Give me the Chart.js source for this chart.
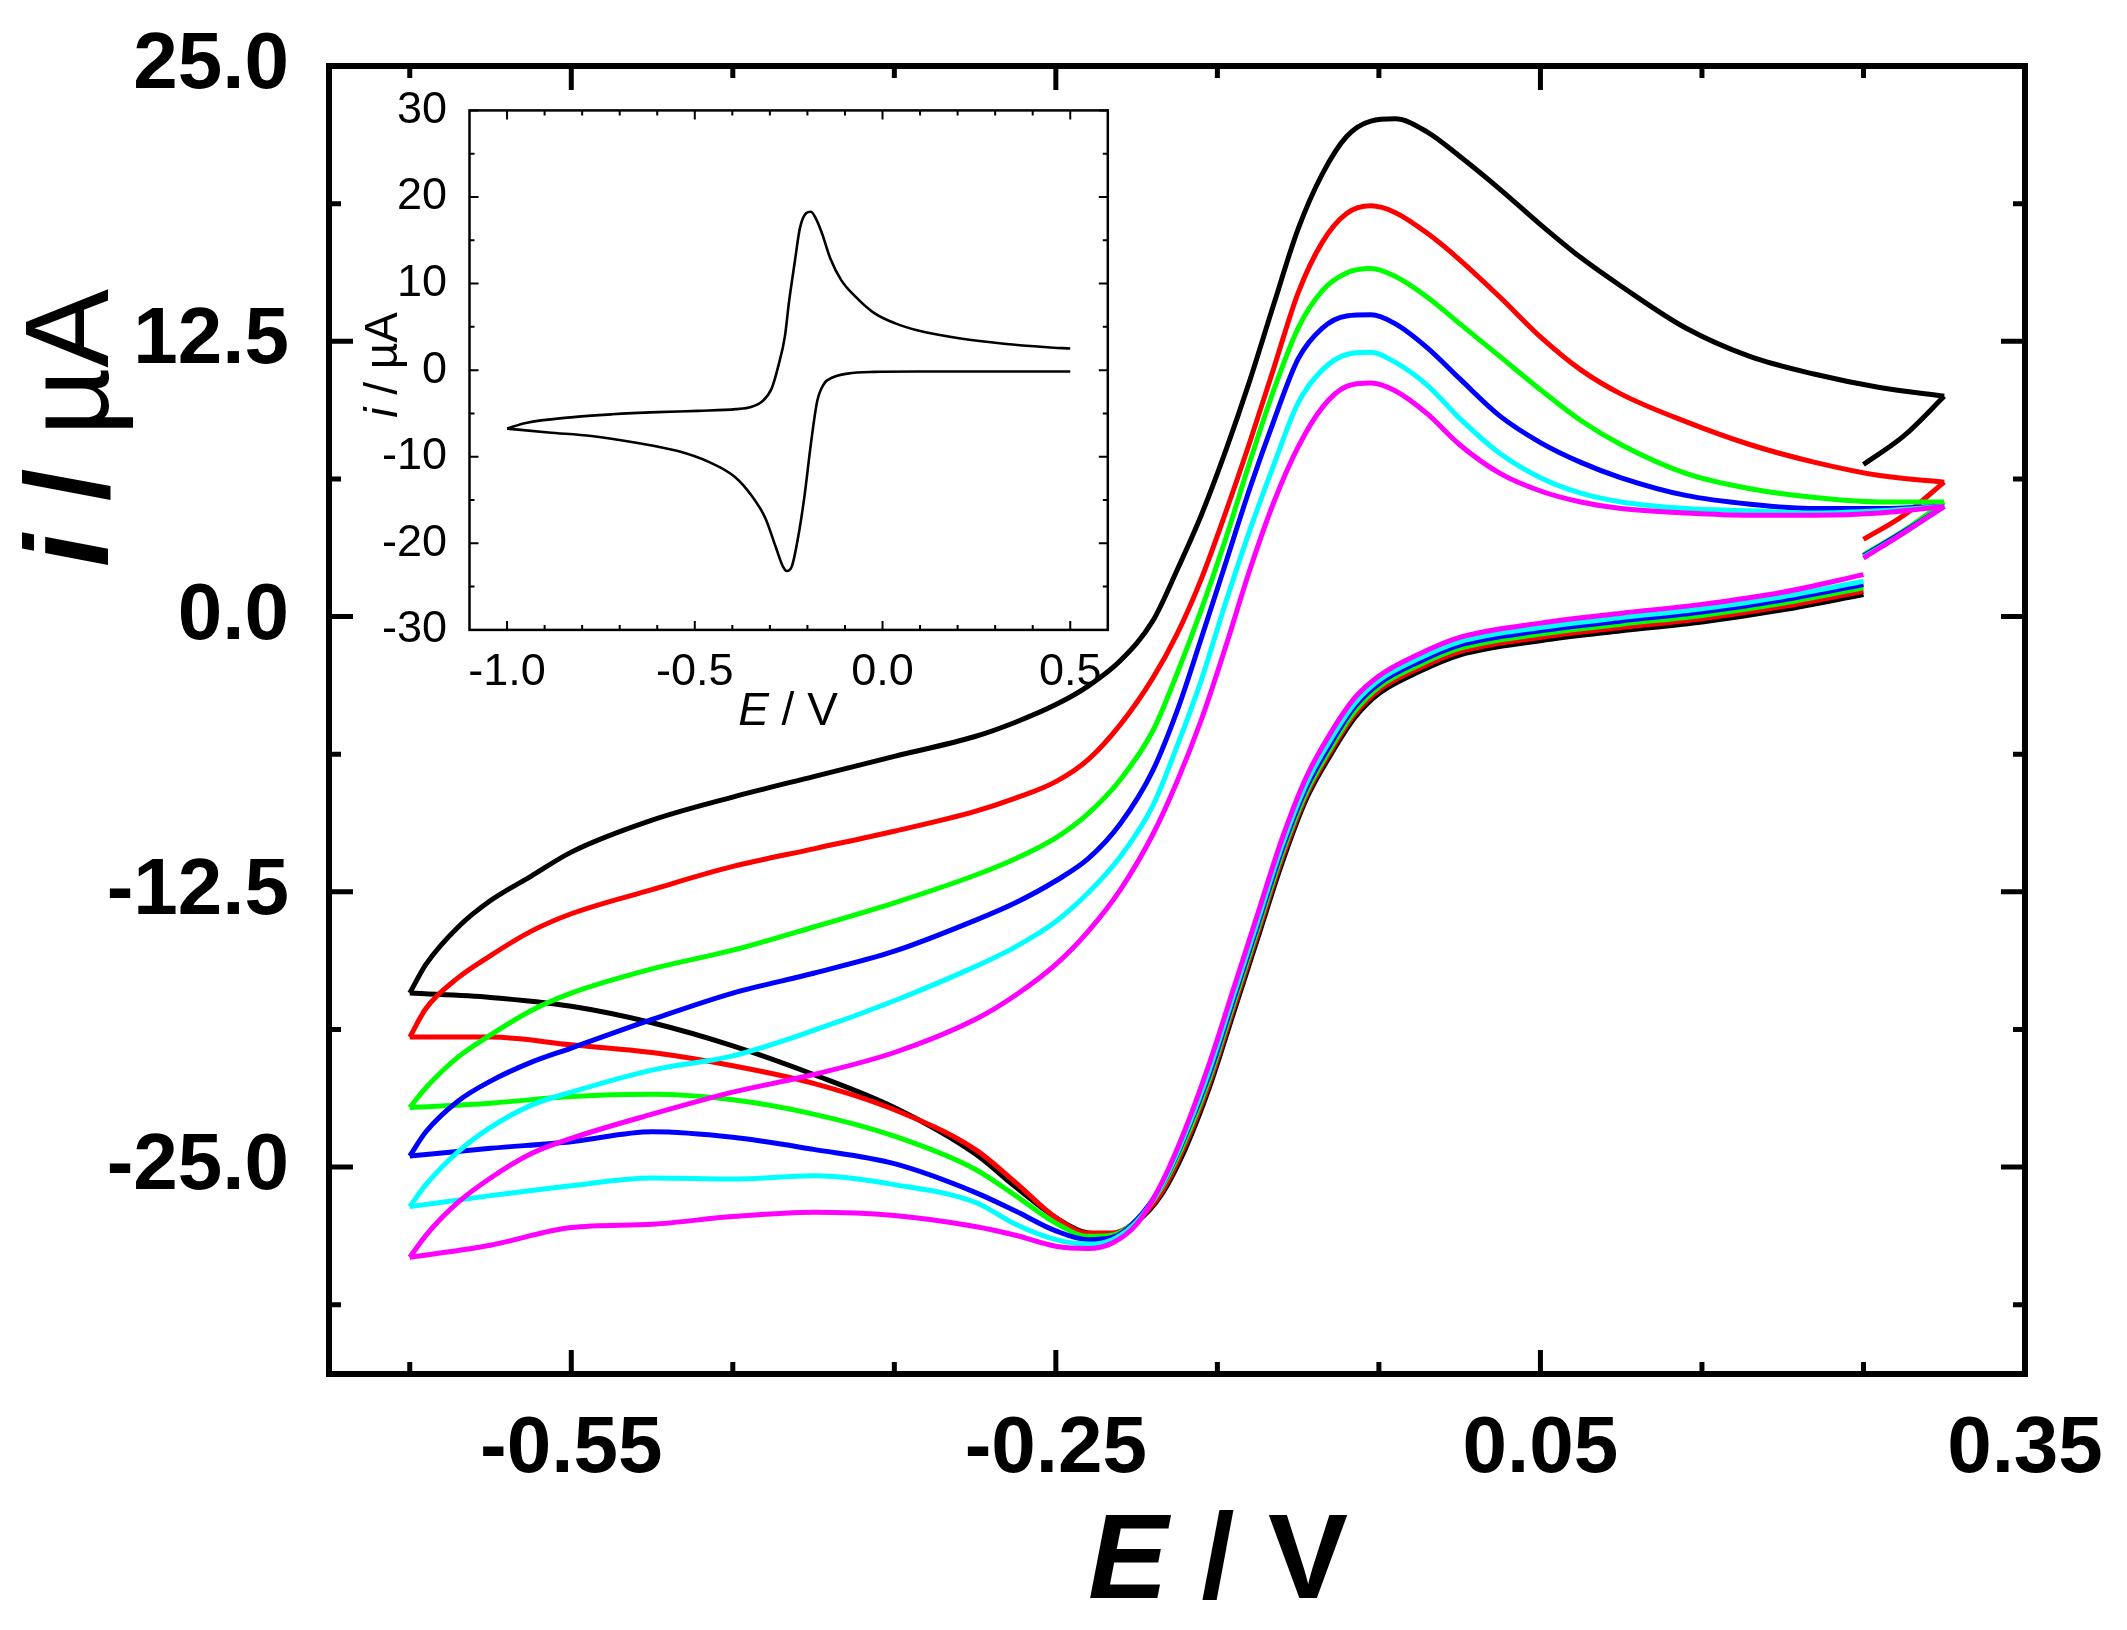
<!DOCTYPE html>
<html>
<head>
<meta charset="utf-8">
<script src="https://cdn.jsdelivr.net/npm/chart.js@4.4.1/dist/chart.umd.min.js"></script>
<style>
  html, body { margin: 0; padding: 0; background: #fff; }
  #wrap { position: relative; width: 2127px; height: 1630px; }
  #main { position: absolute; left: 0; top: 0; }
  #inset { position: absolute; left: 340px; top: 80px; }
</style>
</head>
<body>
<div id="wrap">
  <canvas id="main" width="2127" height="1630"></canvas>
  <canvas id="inset" width="800" height="660"></canvas>
</div>
<script>
// ---- main plot data: potential grids (V) ----
const fwdE  = [-0.65, -0.64, -0.62, -0.60, -0.575, -0.55, -0.50, -0.45, -0.40, -0.35, -0.30, -0.275, -0.25, -0.23, -0.21, -0.19, -0.175, -0.16, -0.145, -0.13, -0.115, -0.10, -0.085, -0.07, -0.055, -0.04, -0.02, 0.0, 0.025, 0.05, 0.075, 0.10, 0.14, 0.18, 0.22, 0.26, 0.30];
const turnE = [0.30, 0.275, 0.25];
const revE  = [0.25, 0.20, 0.15, 0.10, 0.05, 0.0, -0.025, -0.05, -0.065, -0.08, -0.095, -0.11, -0.125, -0.14, -0.155, -0.17, -0.185, -0.20, -0.215, -0.23, -0.25, -0.275, -0.30, -0.35, -0.40, -0.45, -0.50, -0.55, -0.60, -0.65];

// currents (uA), one set per scan
const blackFwd   = [-17.1, -15.8, -14.1, -12.9, -11.8, -10.7, -9.25, -8.2, -7.27, -6.35, -5.45, -4.8, -4.0, -3.16, -2.0, -0.2, 2.1, 4.6, 7.5, 10.7, 14.2, 17.6, 20.1, 21.8, 22.5, 22.6, 22.0, 20.9, 19.4, 17.8, 16.3, 15.0, 13.1, 11.8, 11.0, 10.4, 10.0];
const redFwd     = [-19.1, -17.8, -16.4, -15.4, -14.3, -13.5, -12.4, -11.35, -10.55, -9.75, -8.85, -8.25, -7.5, -6.5, -4.9, -2.8, -0.8, 1.7, 4.7, 7.9, 11.3, 14.7, 17.0, 18.3, 18.65, 18.35, 17.4, 16.2, 14.5, 12.7, 11.2, 10.1, 8.85, 7.8, 7.0, 6.4, 6.1];
const greenFwd   = [-22.3, -21.4, -20.0, -19.0, -17.9, -17.1, -16.0, -15.15, -14.1, -13.0, -11.75, -11.0, -10.05, -8.95, -7.4, -5.2, -2.6, 0.3, 3.5, 7.0, 10.3, 13.1, 14.8, 15.6, 15.8, 15.45, 14.5, 13.3, 11.8, 10.3, 8.9, 7.8, 6.5, 5.8, 5.4, 5.2, 5.2];
const blueFwd    = [-24.5, -23.4, -22.0, -21.1, -20.25, -19.6, -18.3, -17.1, -16.2, -15.2, -13.8, -13.0, -12.0, -11.0, -9.4, -7.0, -4.3, -1.0, 2.4, 5.8, 8.9, 11.7, 13.1, 13.65, 13.7, 13.3, 12.2, 10.8, 9.1, 7.9, 7.0, 6.3, 5.5, 5.1, 4.9, 4.9, 5.0];
const cyanFwd    = [-26.8, -25.8, -24.3, -23.2, -22.2, -21.6, -20.6, -19.95, -18.8, -17.45, -15.9, -15.0, -13.85, -12.55, -10.9, -8.6, -5.9, -2.9, 0.6, 3.9, 6.9, 9.7, 11.2, 11.9, 12.0, 11.55, 10.5, 9.0, 7.4, 6.3, 5.6, 5.2, 4.9, 4.8, 4.7, 4.8, 5.0];
const magentaFwd = [-29.1, -28.1, -26.6, -25.5, -24.4, -23.7, -22.6, -21.6, -20.8, -19.8, -18.3, -17.2, -15.8, -14.3, -12.4, -9.9, -7.5, -4.7, -1.4, 2.1, 5.2, 7.7, 9.5, 10.45, 10.6, 10.25, 9.2, 7.8, 6.5, 5.7, 5.2, 4.9, 4.7, 4.6, 4.6, 4.7, 5.0];

const blackTurn   = [10.0, 8.2, 6.9];
const redTurn     = [6.1, 4.6, 3.5];
const greenTurn   = [5.2, 3.9, 2.8];
const blueTurn    = [5.0, 3.85, 2.75];
const cyanTurn    = [5.0, 3.8, 2.7];
const magentaTurn = [5.0, 3.8, 2.65];

const blackRev   = [1.0, 0.3, -0.25, -0.65, -1.1, -1.75, -2.5, -3.5, -4.6, -6.3, -8.3, -11.2, -14.6, -18.0, -21.4, -24.2, -26.3, -27.5, -28.05, -28.0, -27.3, -25.9, -24.4, -22.3, -20.8, -19.5, -18.45, -17.7, -17.3, -17.1];
const redRev     = [1.15, 0.45, -0.1, -0.5, -0.95, -1.6, -2.35, -3.35, -4.45, -6.15, -8.15, -11.0, -14.4, -17.8, -21.2, -24.0, -26.2, -27.45, -28.0, -28.0, -27.3, -25.7, -24.2, -22.4, -21.2, -20.4, -19.8, -19.45, -19.1, -19.1];
const greenRev   = [1.3, 0.6, 0.05, -0.35, -0.8, -1.45, -2.2, -3.2, -4.3, -6.0, -8.0, -10.8, -14.2, -17.6, -21.0, -23.8, -26.0, -27.4, -28.1, -28.15, -27.55, -26.3, -25.1, -23.6, -22.6, -21.95, -21.7, -21.8, -22.1, -22.3];
const blueRev    = [1.45, 0.75, 0.2, -0.2, -0.65, -1.3, -2.05, -3.05, -4.1, -5.8, -7.8, -10.6, -14.0, -17.4, -20.8, -23.6, -25.9, -27.4, -28.2, -28.3, -27.9, -27.0, -26.15, -24.85, -24.2, -23.65, -23.4, -23.85, -24.15, -24.5];
const cyanRev    = [1.6, 0.9, 0.35, -0.05, -0.5, -1.15, -1.9, -2.9, -3.95, -5.6, -7.6, -10.4, -13.8, -17.2, -20.6, -23.5, -25.9, -27.5, -28.3, -28.5, -28.3, -27.6, -26.6, -25.8, -25.4, -25.55, -25.5, -25.85, -26.3, -26.8];
const magentaRev = [1.9, 1.1, 0.55, 0.15, -0.3, -0.95, -1.7, -2.7, -3.7, -5.3, -7.3, -10.1, -13.5, -16.9, -20.3, -23.3, -25.8, -27.6, -28.45, -28.7, -28.6, -28.1, -27.7, -27.2, -27.05, -27.25, -27.6, -27.75, -28.55, -29.1];

// axis ticks of the main plot
const mainXTicks = [-0.65, -0.55, -0.45, -0.35, -0.25, -0.15, -0.05, 0.05, 0.15, 0.25, 0.35];
const mainYTicks = [25, 18.75, 12.5, 6.25, 0, -6.25, -12.5, -18.75, -25, -31.25];

// ---- inset data ----
const insetUpE  = [-1.0, -0.95, -0.83, -0.72, -0.60, -0.49, -0.39, -0.35, -0.32, -0.295, -0.278, -0.26, -0.249, -0.234, -0.22, -0.203, -0.191, -0.179, -0.162, -0.139, -0.11, -0.07, -0.024, 0.034, 0.092, 0.208, 0.323, 0.439, 0.50];
const insetUpI  = [-6.75, -6.1, -5.45, -5.1, -4.85, -4.7, -4.5, -4.25, -3.6, -2.1, 0.4, 3.9, 7.9, 12.4, 16.4, 18.15, 18.3, 17.65, 15.9, 12.9, 10.4, 8.4, 6.65, 5.4, 4.6, 3.65, 3.05, 2.65, 2.5];
const insetLowE = [-1.0, -0.89, -0.775, -0.66, -0.545, -0.463, -0.393, -0.347, -0.312, -0.283, -0.266, -0.255, -0.241, -0.226, -0.208, -0.191, -0.174, -0.156, -0.133, -0.093, -0.024, 0.092, 0.323, 0.50];
const insetLowI = [-6.75, -7.2, -7.6, -8.35, -9.35, -10.6, -12.35, -14.6, -17.1, -20.6, -22.6, -23.2, -22.6, -19.6, -14.6, -8.6, -3.6, -1.6, -0.85, -0.4, -0.2, -0.15, -0.15, -0.15];

const insetXTicks = [-1.0, -0.9, -0.8, -0.7, -0.6, -0.5, -0.4, -0.3, -0.2, -0.1, 0.0, 0.1, 0.2, 0.3, 0.4, 0.5];
const insetYTicks = [30, 25, 20, 15, 10, 5, 0, -5, -10, -15, -20, -25, -30];

const FONT = "'Liberation Sans', Arial, sans-serif";

function pts(es, is) {
  return es.map((e, k) => ({ x: e, y: is[k] }));
}

// draws text made of differently styled parts, centred on (x,y) along its direction
function drawParts(ctx, parts, x, y, rotate) {
  ctx.save();
  ctx.translate(x, y);
  if (rotate) ctx.rotate(-Math.PI / 2);
  ctx.textAlign = 'left';
  ctx.textBaseline = 'alphabetic';
  let w = 0;
  parts.forEach(p => { ctx.font = p.font; w += ctx.measureText(p.text).width; });
  let cur = -w / 2;
  parts.forEach(p => {
    ctx.font = p.font;
    ctx.fillText(p.text, cur, 0);
    cur += ctx.measureText(p.text).width;
  });
  ctx.restore();
}

// inward ticks on all four sides, box frame and axis titles
const axesBox = {
  id: 'axesBox',
  afterDraw(chart, args, o) {
    const ctx = chart.ctx;
    const a = chart.chartArea;
    const sx = chart.scales.x, sy = chart.scales.y;
    ctx.save();
    ctx.strokeStyle = '#000';
    ctx.fillStyle = '#000';
    ctx.lineWidth = o.tickWidth;
    ctx.beginPath();
    sx.ticks.forEach((t, k) => {
      const p = sx.getPixelForValue(t.value);
      const len = (k % o.xEvery === o.xAt) ? o.majorLen : o.minorLen;
      ctx.moveTo(p, a.bottom); ctx.lineTo(p, a.bottom - len);
      ctx.moveTo(p, a.top); ctx.lineTo(p, a.top + len);
    });
    sy.ticks.forEach((t, k) => {
      const p = sy.getPixelForValue(t.value);
      const len = (k % o.yEvery === o.yAt) ? o.majorLen : o.minorLen;
      ctx.moveTo(a.left, p); ctx.lineTo(a.left + len, p);
      ctx.moveTo(a.right, p); ctx.lineTo(a.right - len, p);
    });
    ctx.stroke();
    ctx.lineWidth = o.frameWidth;
    ctx.strokeRect(a.left, a.top, a.right - a.left, a.bottom - a.top);
    drawParts(ctx, o.xTitle.parts, o.xTitle.x, o.xTitle.y, false);
    drawParts(ctx, o.yTitle.parts, o.yTitle.x, o.yTitle.y, true);
    ctx.restore();
  }
};

// ---- main chart ----
const scans = [
  { color: '#000000', fwd: blackFwd, turn: blackTurn, rev: blackRev },
  { color: '#ff0000', fwd: redFwd, turn: redTurn, rev: redRev },
  { color: '#00ff00', fwd: greenFwd, turn: greenTurn, rev: greenRev },
  { color: '#0000ff', fwd: blueFwd, turn: blueTurn, rev: blueRev },
  { color: '#00ffff', fwd: cyanFwd, turn: cyanTurn, rev: cyanRev },
  { color: '#ff00ff', fwd: magentaFwd, turn: magentaTurn, rev: magentaRev }
];

// first dataset is drawn on top, so magenta goes first
const mainSets = [];
scans.slice().reverse().forEach(s => {
  const line = { borderColor: s.color, borderWidth: 5, showLine: true, pointRadius: 0, cubicInterpolationMode: 'monotone', fill: false };
  mainSets.push(Object.assign({ data: pts(fwdE, s.fwd) }, line));
  mainSets.push(Object.assign({ data: pts(turnE, s.turn) }, line));
  mainSets.push(Object.assign({ data: pts(revE, s.rev) }, line));
});

new Chart(document.getElementById('main'), {
  type: 'scatter',
  data: { datasets: mainSets },
  options: {
    responsive: false,
    animation: false,
    devicePixelRatio: 1,
    layout: { padding: { left: 0, top: 66, right: 102, bottom: 0 } },
    plugins: {
      legend: { display: false },
      tooltip: { enabled: false },
      axesBox: {
        tickWidth: 5, frameWidth: 6, majorLen: 24, minorLen: 12,
        xEvery: 3, xAt: 1, yEvery: 2, yAt: 0,
        xTitle: { x: 1218, y: 1598, parts: [
          { text: 'E', font: 'italic bold 120px ' + FONT },
          { text: ' / V', font: 'bold 120px ' + FONT } ] },
        yTitle: { x: 108, y: 428, parts: [
          { text: 'i', font: 'italic bold 118px ' + FONT },
          { text: ' / ', font: 'bold 118px ' + FONT },
          { text: 'µA', font: '118px ' + FONT } ] }
      }
    },
    scales: {
      x: {
        type: 'linear', min: -0.70, max: 0.35,
        grid: { display: false }, border: { display: false },
        afterBuildTicks: s => { s.ticks = mainXTicks.map(v => ({ value: v })); },
        afterFit: s => { s.height = 256; },
        ticks: {
          autoSkip: false, maxRotation: 0, padding: 20, color: '#000',
          font: { family: FONT, size: 80, weight: 'bold' },
          callback: (v, k) => (k % 3 === 1 ? v.toFixed(2) : '')
        }
      },
      y: {
        type: 'linear', min: -34.4, max: 25,
        grid: { display: false }, border: { display: false },
        afterBuildTicks: s => { s.ticks = mainYTicks.map(v => ({ value: v })); },
        afterFit: s => { s.width = 329; },
        ticks: {
          autoSkip: false, padding: 32, color: '#000',
          font: { family: FONT, size: 80, weight: 'bold', lineHeight: 0.4 },
          callback: (v, k) => (k % 2 === 0 ? v.toFixed(1) : '')
        }
      }
    }
  },
  plugins: [axesBox]
});

// ---- inset chart ----
const insetLine = { borderColor: '#000', borderWidth: 2.6, showLine: true, pointRadius: 0, cubicInterpolationMode: 'monotone', fill: false };
new Chart(document.getElementById('inset'), {
  type: 'scatter',
  data: {
    datasets: [
      Object.assign({ data: pts(insetUpE, insetUpI) }, insetLine),
      Object.assign({ data: pts(insetLowE, insetLowI) }, insetLine)
    ]
  },
  options: {
    responsive: false,
    animation: false,
    devicePixelRatio: 1,
    layout: { padding: { left: 0, top: 30.4, right: 32.2, bottom: 0 } },
    plugins: {
      legend: { display: false },
      tooltip: { enabled: false },
      axesBox: {
        tickWidth: 2, frameWidth: 2.5, majorLen: 9, minorLen: 5,
        xEvery: 5, xAt: 0, yEvery: 2, yAt: 0,
        xTitle: { x: 448, y: 645, parts: [
          { text: 'E', font: 'italic 46px ' + FONT },
          { text: ' / V', font: '46px ' + FONT } ] },
        yTitle: { x: 57, y: 285, parts: [
          { text: 'i', font: 'italic 46px ' + FONT },
          { text: ' / µA', font: '46px ' + FONT } ] }
      }
    },
    scales: {
      x: {
        type: 'linear', min: -1.1, max: 0.6,
        grid: { display: false }, border: { display: false },
        afterBuildTicks: s => { s.ticks = insetXTicks.map(v => ({ value: v })); },
        afterFit: s => { s.height = 110.1; },
        ticks: {
          autoSkip: false, maxRotation: 0, padding: 8, color: '#000',
          font: { family: FONT, size: 45 },
          callback: (v, k) => (k % 5 === 0 ? v.toFixed(1) : '')
        }
      },
      y: {
        type: 'linear', min: -30, max: 30,
        grid: { display: false }, border: { display: false },
        afterBuildTicks: s => { s.ticks = insetYTicks.map(v => ({ value: v })); },
        afterFit: s => { s.width = 129.5; },
        ticks: {
          autoSkip: false, padding: 14.5, color: '#000',
          font: { family: FONT, size: 45, lineHeight: 0.3 },
          callback: (v, k) => (k % 2 === 0 ? String(v) : '')
        }
      }
    }
  },
  plugins: [axesBox]
});
</script>
</body>
</html>
